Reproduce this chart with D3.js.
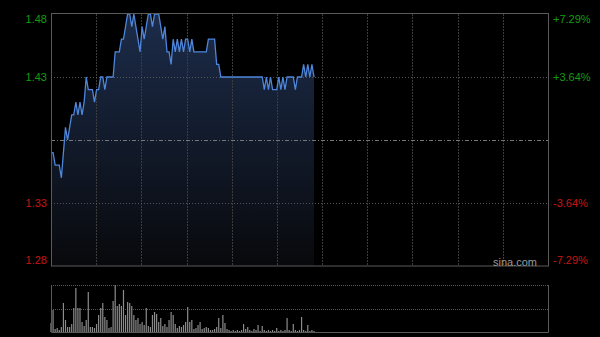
<!DOCTYPE html>
<html>
  <head>
    <meta charset="utf-8">
    <title>分时图</title>
    <script src="https://d3js.org/d3.v7.min.js"></script>
    <style>
      html, body { margin: 0; padding: 0; background: #000; }
      svg { display: block; }
      text { font-family: "Liberation Sans", Arial, sans-serif; font-size: 11px; }
    </style>
  </head>
  <body>
    <div id="vis"></div>
    <script>
        const width = 600;
        const height = 337;

        // minute-by-minute price, one value per minute from the open
        const prices = [
          1.37, 1.37, 1.36, 1.36, 1.36, 1.35, 1.37, 1.39, 1.38, 1.39,
          1.40, 1.40, 1.41, 1.40, 1.41, 1.40, 1.41, 1.43, 1.42, 1.42,
          1.42, 1.41, 1.42, 1.42, 1.43, 1.43, 1.42, 1.43, 1.43, 1.43,
          1.43, 1.45, 1.45, 1.45, 1.46, 1.46, 1.47, 1.48, 1.48, 1.47,
          1.48, 1.47, 1.46, 1.45, 1.47, 1.46, 1.47, 1.48, 1.48, 1.47,
          1.48, 1.48, 1.48, 1.47, 1.46, 1.47, 1.45, 1.45, 1.44, 1.46,
          1.45, 1.46, 1.45, 1.46, 1.45, 1.46, 1.46, 1.45, 1.46, 1.45,
          1.45, 1.45, 1.45, 1.45, 1.45, 1.45, 1.46, 1.46, 1.46, 1.46,
          1.44, 1.44, 1.43, 1.43, 1.43, 1.43, 1.43, 1.43, 1.43, 1.43,
          1.43, 1.43, 1.43, 1.43, 1.43, 1.43, 1.43, 1.43, 1.43, 1.43,
          1.43, 1.43, 1.43, 1.42, 1.43, 1.42, 1.43, 1.42, 1.42, 1.42,
          1.43, 1.42, 1.43, 1.42, 1.43, 1.43, 1.43, 1.43, 1.42, 1.43,
          1.43, 1.43, 1.44, 1.43, 1.44, 1.43, 1.44, 1.43
        ];

        // volume per minute (relative units)
        const volumes = [
          9, 22, 3, 4, 2, 5, 29, 12, 5, 5,
          8, 24, 44, 24, 24, 10, 6, 12, 40, 5,
          5, 4, 8, 17, 24, 29, 15, 12, 4, 5,
          31, 47, 26, 28, 26, 42, 17, 30, 29, 26,
          17, 12, 14, 8, 10, 7, 24, 6, 5, 17,
          20, 18, 10, 14, 6, 8, 5, 12, 20, 17,
          8, 4, 6, 5, 7, 10, 25, 10, 12, 3,
          4, 7, 10, 3, 4, 5, 4, 2, 2, 3,
          5, 14, 4, 17, 9, 3, 2, 1, 2, 1,
          2, 1, 2, 8, 3, 5, 2, 1, 3, 2,
          7, 1, 6, 2, 1, 2, 1, 2, 1, 4,
          1, 2, 1, 2, 14, 2, 1, 8, 2, 1,
          2, 15, 2, 1, 7, 1, 2, 1
        ];

        const prevClose = 1.38;
        const leftTicks = [1.48, 1.43, 1.33, 1.28];
        const leftLabels = ["1.48", "1.43", "1.33", "1.28"];
        const rightLabels = ["+7.29%", "+3.64%", "-3.64%", "-7.29%"];
        const minutesPerDay = 240;
        const gridCols = 11;

        const plot = {left: 51, right: 548, top: 14, bottom: 266};
        const volBox = {top: 285, bottom: 332};

        let vis = d3.select("#vis")
                      .append("svg")
                      .attr("width", width)
                      .attr("height", height);

        vis.append("rect").attr("width", width).attr("height", height).attr("fill", "#000");

        const x = d3.scaleLinear().domain([0, minutesPerDay]).range([plot.left, plot.right]);
        const y = d3.scaleLinear().domain([1.28, 1.48]).range([plot.bottom, plot.top]);
        const yVol = d3.scaleLinear().domain([0, d3.max(volumes)]).range([volBox.bottom, volBox.top]);

        // gradient for the area under the price line
        const grad = vis.append("defs").append("linearGradient")
                        .attr("id", "fillGrad")
                        .attr("gradientUnits", "userSpaceOnUse")
                        .attr("x1", 0).attr("y1", plot.top)
                        .attr("x2", 0).attr("y2", plot.bottom);
        grad.append("stop").attr("offset", "0%").attr("stop-color", "#1c2c4a");
        grad.append("stop").attr("offset", "100%").attr("stop-color", "#08090c");

        // area + line
        const area = d3.area()
                       .x((d, i) => x(i))
                       .y0(plot.bottom)
                       .y1(d => y(d));
        vis.append("path")
           .datum(prices)
           .attr("d", area)
           .attr("fill", "url(#fillGrad)");

        // vertical grid
        const colTicks = d3.range(1, gridCols).map(k => k * minutesPerDay / gridCols);
        vis.append("g")
           .selectAll("line")
           .data(colTicks)
           .enter()
           .append("line")
           .attr("x1", d => Math.round(x(d)) + 0.5)
           .attr("x2", d => Math.round(x(d)) + 0.5)
           .attr("y1", plot.top)
           .attr("y2", plot.bottom)
           .attr("stroke", "#3c3c3c")
           .attr("stroke-dasharray", "2,1");

        // horizontal grid
        vis.append("g")
           .selectAll("line")
           .data([1.43, 1.33])
           .enter()
           .append("line")
           .attr("x1", plot.left)
           .attr("x2", plot.right)
           .attr("y1", d => Math.round(y(d)) + 0.5)
           .attr("y2", d => Math.round(y(d)) + 0.5)
           .attr("stroke", "#555")
           .attr("stroke-dasharray", "1,2");

        vis.append("line")
           .attr("x1", plot.left)
           .attr("x2", plot.right)
           .attr("y1", Math.round(y(prevClose)) + 0.5)
           .attr("y2", Math.round(y(prevClose)) + 0.5)
           .attr("stroke", "#777")
           .attr("stroke-dasharray", "4,2,1,2");

        const line = d3.line()
                       .x((d, i) => x(i))
                       .y(d => y(d));
        vis.append("path")
           .datum(prices)
           .attr("d", line)
           .attr("fill", "none")
           .attr("stroke", "#4d86da")
           .attr("stroke-width", 1.3);

        // price frame
        vis.append("rect")
           .attr("x", plot.left + 0.5)
           .attr("y", plot.top - 0.5)
           .attr("width", plot.right - plot.left)
           .attr("height", plot.bottom - plot.top + 0.5)
           .attr("fill", "none")
           .attr("stroke", "#5a5a5a");

        // left and right labels
        vis.append("g")
           .selectAll("text")
           .data(leftTicks)
           .enter()
           .append("text")
           .attr("x", 47)
           .attr("y", (d, i) => i === 0 ? 19 : (i === 3 ? 260 : y(d)))
           .attr("dy", "0.35em")
           .attr("text-anchor", "end")
           .attr("fill", d => d > prevClose ? "#139c13" : "#c81414")
           .text((d, i) => leftLabels[i]);

        vis.append("g")
           .selectAll("text")
           .data(leftTicks)
           .enter()
           .append("text")
           .attr("x", 553)
           .attr("y", (d, i) => i === 0 ? 19 : (i === 3 ? 260 : y(d)))
           .attr("dy", "0.35em")
           .attr("fill", d => d > prevClose ? "#139c13" : "#c81414")
           .text((d, i) => rightLabels[i]);

        vis.append("text")
           .attr("x", 537)
           .attr("y", 262)
           .attr("dy", "0.35em")
           .attr("text-anchor", "end")
           .attr("fill", "#9a9a9a")
           .text("sina.com");

        // volume panel
        vis.append("g")
           .selectAll("line")
           .data([volBox.top, (volBox.top + volBox.bottom) / 2])
           .enter()
           .append("line")
           .attr("x1", plot.left)
           .attr("x2", plot.right)
           .attr("y1", d => Math.round(d) + 0.5)
           .attr("y2", d => Math.round(d) + 0.5)
           .attr("stroke", "#555")
           .attr("stroke-dasharray", "1,1");

        vis.append("g")
           .selectAll("line")
           .data(volumes)
           .enter()
           .append("line")
           .attr("x1", (d, i) => x(i))
           .attr("x2", (d, i) => x(i))
           .attr("y1", volBox.bottom)
           .attr("y2", d => yVol(d))
           .attr("stroke", "#8c8c8c")
           .attr("stroke-width", 1.2);

        vis.append("path")
           .attr("d", `M${plot.left + 0.5},${volBox.top}V${volBox.bottom + 0.5}H${plot.right + 0.5}V${volBox.top}`)
           .attr("fill", "none")
           .attr("stroke", "#5a5a5a");
    </script>
  </body>
</html>
